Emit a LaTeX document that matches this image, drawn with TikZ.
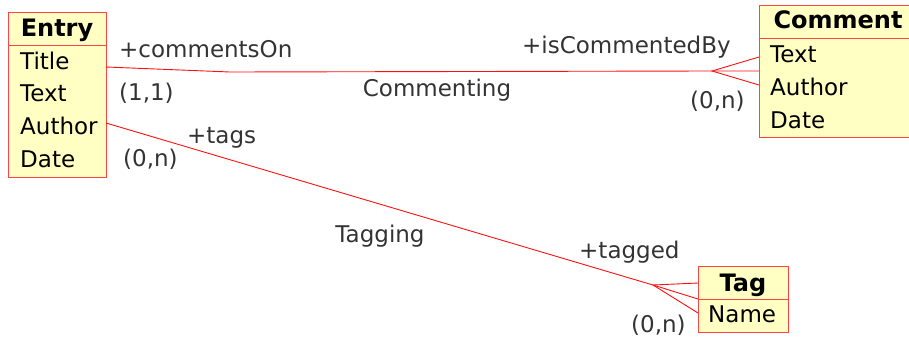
\documentclass[tikz,border=0pt]{standalone}
\usepackage{fontspec}
\setmainfont{DejaVu Sans}
\definecolor{boxred}{HTML}{FF4444}
\definecolor{boxfill}{HTML}{FFFFC4}
\definecolor{linered}{HTML}{FF1010}
\definecolor{lblgray}{HTML}{333333}
\begin{document}
\begin{tikzpicture}[x=1pt,y=-1pt,
  ent/.style={draw=boxred, fill=boxfill, line width=1pt, inner sep=0pt, anchor=north west},
  sep/.style={draw=boxred, line width=1pt},
  hdr/.style={font=\fontsize{24}{28}\selectfont\bfseries, text=black, anchor=base, inner sep=0pt},
  attr/.style={font=\fontsize{23}{27}\selectfont, text=black, anchor=base west, inner sep=0pt},
  lbl/.style={font=\fontsize{23}{27}\selectfont, text=lblgray, anchor=base west, inner sep=0pt},
  rel/.style={draw=linered, line width=0.9pt}]
\useasboundingbox (0,0) rectangle (909,340);

% Entry
\node[ent, minimum width=98pt, minimum height=165pt] (entry) at (8,12) {};
\draw[sep] (8,45) -- (106,45);
\node[hdr] (entryh) at (57,36) {Entry};
\node[attr] (etitle) at (20,69) {Title};
\node[attr] (etext) at (20,101) {Text};
\node[attr] (eauthor) at (20,134) {Author};
\node[attr] (edate) at (20,167) {Date};

% Comment
\node[ent, minimum width=150pt, minimum height=132pt] (comment) at (759,5) {};
\draw[sep] (759,38) -- (909,38);
\node[hdr] (commenth) at (838,28) {Comment};
\node[attr] (ctext) at (770,62) {Text};
\node[attr] (cauthor) at (770,95) {Author};
\node[attr] (cdate) at (770,128) {Date};

% Tag
\node[ent, minimum width=90pt, minimum height=66pt] (tag) at (698,266) {};
\draw[sep] (698,299) -- (788,299);
\node[hdr] (tagh) at (743,291) {Tag};
\node[attr] (tname) at (708,322) {Name};

% connector points
\coordinate (e1) at (106,67);
\coordinate (bend) at (230,72);
\coordinate (cf1) at (712,71);
\coordinate (c1a) at (759,57);
\coordinate (c1b) at (759,71);
\coordinate (c1c) at (759,85);
\coordinate (e2) at (106,123);
\coordinate (cf2) at (653,285);
\coordinate (t2a) at (698,283);
\coordinate (t2b) at (698,299);
\coordinate (t2c) at (698,313);

% Commenting
\draw[rel] (e1) -- (bend) -- (cf1) -- (c1b);
\draw[rel] (c1a) -- (cf1) -- (c1c);
% Tagging
\draw[rel] (e2) -- (cf2) -- (t2b);
\draw[rel] (t2a) -- (cf2) -- (t2c);

% labels
\node[lbl] (l1) at (119,57) {+commentsOn};
\node[lbl] (l2) at (119,100) {(1,1)};
\node[lbl, anchor=base] (l3) at (437,96) {Commenting};
\node[lbl] (l4) at (522,53) {+isCommentedBy};
\node[lbl] (l5) at (690,108) {(0,n)};
\node[lbl] (l6) at (187,143) {+tags};
\node[lbl] (l7) at (123,166) {(0,n)};
\node[lbl, anchor=base] (l8) at (380,242) {Tagging};
\node[lbl] (l9) at (579,258) {+tagged};
\node[lbl] (l10) at (631,332) {(0,n)};
\end{tikzpicture}
\end{document}
